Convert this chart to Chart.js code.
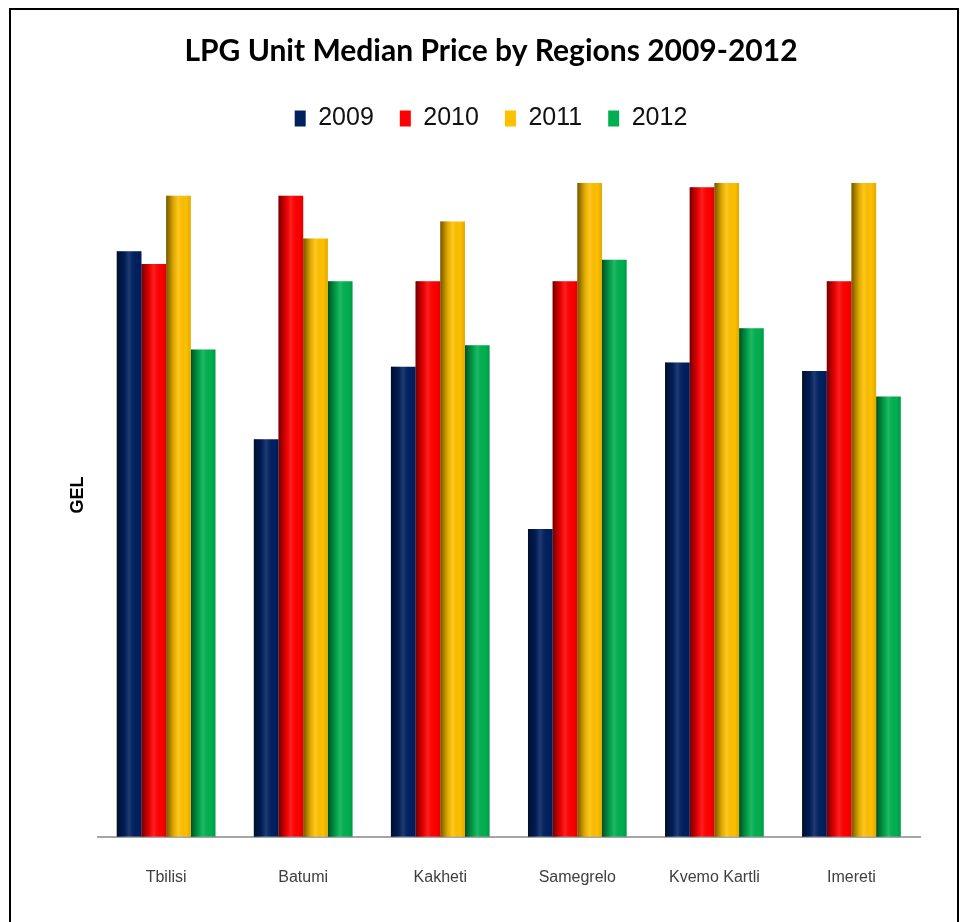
<!DOCTYPE html>
<html>
<head>
<meta charset="utf-8">
<script src="https://cdn.jsdelivr.net/npm/chart.js@4/dist/chart.umd.min.js"></script>
<style>
html,body{margin:0;padding:0;background:#fff;}
#wrap{position:absolute;left:0;top:0;width:967px;height:922px;}
</style>
</head>
<body>
<div id="wrap"><canvas id="c" width="967" height="922"></canvas></div>
<script>
const categories = ["Tbilisi", "Batumi", "Kakheti", "Samegrelo", "Kvemo Kartli", "Imereti"];
const seriesNames = ["2009", "2010", "2011", "2012"];
const values2009 = [1.37, 0.93, 1.10, 0.72, 1.11, 1.09];
const values2010 = [1.34, 1.50, 1.30, 1.30, 1.52, 1.30];
const values2011 = [1.50, 1.40, 1.44, 1.53, 1.53, 1.53];
const values2012 = [1.14, 1.30, 1.15, 1.35, 1.19, 1.03];
const colors = ["#002060", "#FF0000", "#FFC000", "#00B050"];
const yMax = 1.6;

const borderPlugin = {
  id: 'frame',
  afterDraw(chart) {
    const ctx = chart.ctx;
    ctx.save();
    ctx.strokeStyle = '#000';
    ctx.lineWidth = 2;
    ctx.strokeRect(10, 9, 948, 940);
    ctx.restore();
  }
};

const shadePlugin = {
  id: 'shade',
  afterDatasetDraw(chart, args) {
    const meta = args.meta;
    const ctx = chart.ctx;
    ctx.save();
    meta.data.forEach(bar => {
      const p = bar.getProps(['x', 'y', 'base', 'width'], true);
      const l = p.x - p.width / 2, r = p.x + p.width / 2;
      const g = ctx.createLinearGradient(l, 0, r, 0);
      g.addColorStop(0, 'rgba(0,0,0,0.55)');
      g.addColorStop(0.3, 'rgba(0,0,0,0.12)');
      g.addColorStop(0.5, 'rgba(255,255,255,0.12)');
      g.addColorStop(0.8, 'rgba(0,0,0,0.0)');
      g.addColorStop(1, 'rgba(0,0,0,0.12)');
      ctx.fillStyle = g;
      ctx.fillRect(l, p.y, p.width, p.base - p.y);
    });
    ctx.restore();
  }
};

const legendSpace = {
  id: 'legendSpace',
  beforeInit(chart) {
    const orig = chart.legend.fit;
    chart.legend.fit = function () {
      orig.bind(chart.legend)();
      this.height += 12;
    };
  }
};

const allValues = [values2009, values2010, values2011, values2012];
new Chart(document.getElementById('c'), {
  type: 'bar',
  data: {
    labels: categories,
    datasets: seriesNames.map((n, i) => ({
      label: n,
      data: allValues[i],
      backgroundColor: colors[i],
      borderWidth: 0,
      categoryPercentage: 0.72,
      barPercentage: 1.0
    }))
  },
  plugins: [borderPlugin, shadePlugin, legendSpace],
  options: {
    responsive: false,
    animation: false,
    layout: { padding: { left: 62, right: 47, top: 0, bottom: 4 } },
    plugins: {
      title: {
        display: true,
        text: 'LPG Unit Median Price by Regions 2009-2012',
        color: '#000',
        font: { family: 'Lato', size: 30, weight: 'bold' },
        padding: { top: 33, bottom: 11 }
      },
      legend: {
        display: true,
        position: 'top',
        labels: {
          color: '#111',
          font: { family: 'Liberation Sans', size: 25 },
          boxWidth: 11,
          boxHeight: 16,
          padding: 26
        }
      },
      tooltip: { enabled: false }
    },
    scales: {
      x: {
        grid: { display: false, drawTicks: false },
        border: { display: true, color: '#a6a6a6', width: 2 },
        ticks: { color: '#404040', font: { family: 'Liberation Sans', size: 16 }, padding: 31 }
      },
      y: {
        min: 0, max: yMax,
        grid: { display: false, drawTicks: false },
        border: { display: false },
        ticks: { display: false },
        title: {
          display: true, text: 'GEL', color: '#000',
          font: { family: 'Liberation Sans', size: 18, weight: 'bold' },
          padding: { top: 5, bottom: 9 }
        }
      }
    }
  }
});
</script>
</body>
</html>
